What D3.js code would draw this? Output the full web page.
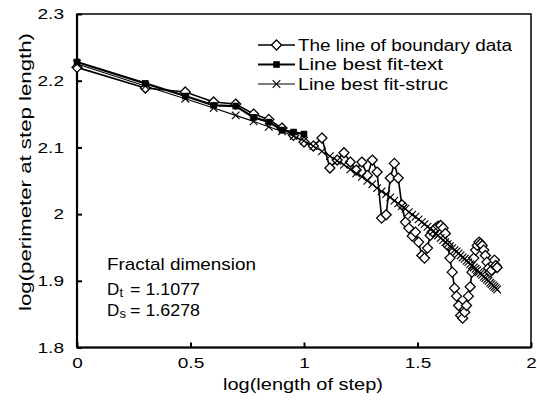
<!DOCTYPE html>
<html><head><meta charset="utf-8">
<script src="https://cdn.jsdelivr.net/npm/d3@7"></script>
<style>
body{margin:0;background:#fff}
svg{display:block}
text{font-family:"Liberation Sans",Arial,sans-serif;fill:#000}
</style>
</head><body><svg id="c" width="537" height="405"></svg>
<script>
// log10 of step length (steps 1..71)
const logStep = [0,0.301,0.477,0.602,0.699,0.778,0.845,0.903,0.954,1.000,
  1.041,1.079,1.114,1.146,1.176,1.204,1.230,1.255,1.279,1.301,
  1.322,1.342,1.362,1.380,1.398,1.415,1.431,1.447,1.462,1.477,
  1.491,1.505,1.519,1.531,1.544,1.556,1.568,1.580,1.591,1.602,
  1.613,1.623,1.633,1.643,1.653,1.663,1.672,1.681,1.690,1.699,
  1.708,1.716,1.724,1.732,1.740,1.748,1.756,1.763,1.771,1.778,
  1.785,1.792,1.799,1.806,1.813,1.820,1.826,1.833,1.839,1.845,1.851];
const boundaryData = [2.220,2.189,2.183,2.168,2.165,2.150,2.142,2.129,2.118,2.108,
  2.102,2.114,2.069,2.081,2.092,2.078,2.066,2.078,2.058,2.081,
  2.063,1.994,1.999,2.054,2.076,2.054,2.014,1.988,1.979,1.967,
  1.973,1.958,1.938,1.934,1.949,1.968,1.973,1.979,1.982,1.983,
  1.979,1.971,1.953,1.934,1.913,1.889,1.877,1.863,1.848,1.844,
  1.853,1.863,1.877,1.891,1.913,1.934,1.946,1.953,1.958,1.956,
  1.953,1.946,1.938,1.928,1.919,1.913,1.916,1.925,1.931,1.923,1.920];
const fitText = [2.228,2.196,2.177,2.163,2.162,2.145,2.138,2.126,2.123,2.120];
const fitStruc = [2.225,2.192,2.173,2.159,2.148,2.139,2.131,2.124,2.117,2.110,
  2.102,2.094,2.087,2.080,2.074,2.067,2.061,2.056,2.050,2.045,
  2.039,2.034,2.030,2.025,2.020,2.016,2.012,2.008,2.003,1.999,
  1.996,1.992,1.988,1.985,1.981,1.978,1.974,1.971,1.968,1.964,
  1.961,1.958,1.955,1.952,1.949,1.946,1.944,1.941,1.938,1.935,
  1.933,1.930,1.928,1.925,1.923,1.920,1.918,1.916,1.913,1.911,
  1.909,1.906,1.904,1.902,1.900,1.897,1.895,1.893,1.891,1.889,1.887];
const xTicks = [0,0.5,1,1.5,2];
const xTickLabels = ["0","0.5","1","1.5","2"];
const yTicks = [1.8,1.9,2.0,2.1,2.2,2.3];
const yTickLabels = ["1.8","1.9","2","2.1","2.2","2.3"];
const seriesNames = ["The line of boundary data","Line best fit-text","Line best fit-struc"];
const xTitle = "log(length of step)";
const yTitle = "log(perimeter at step length)";
const noteTitle = "Fractal dimension";
const noteRows = [["D","t","= 1.1077"],["D","s","= 1.6278"]];

const svg = d3.select("#c");
const L = 77, R = 531, T = 14, B = 347.5;
const x = d3.scaleLinear().domain([0,2]).range([L,R]);
const y = d3.scaleLinear().domain([1.8,2.3]).range([B,T]);

function widthOf(s){ let w=0; for(const c of s){ w += (c==="."?5.5:10.5); } return w; }

// axes
const yAxis = d3.axisLeft(y).tickValues(yTicks).tickSize(-5).tickPadding(13)
  .tickFormat((d,i)=>yTickLabels[i]);
const gy = svg.append("g").attr("transform",`translate(${L},0)`).call(yAxis);
gy.select(".domain").remove();
gy.selectAll(".tick line").attr("stroke","#000").attr("stroke-width",2);
gy.selectAll(".tick text").attr("font-size",15).attr("fill","#000")
  .attr("font-family","Liberation Sans, Arial, sans-serif")
  .attr("textLength",(d,i)=>widthOf(yTickLabels[i])).attr("lengthAdjust","spacingAndGlyphs");

const xAxis = d3.axisBottom(x).tickValues(xTicks).tickSize(-5).tickPadding(10)
  .tickFormat((d,i)=>xTickLabels[i]);
const gx = svg.append("g").attr("transform",`translate(0,${B})`).call(xAxis);
gx.select(".domain").remove();
gx.selectAll(".tick line").attr("stroke","#000").attr("stroke-width",2);
gx.selectAll(".tick text").attr("font-size",15).attr("fill","#000")
  .attr("font-family","Liberation Sans, Arial, sans-serif")
  .attr("textLength",(d,i)=>widthOf(xTickLabels[i])).attr("lengthAdjust","spacingAndGlyphs");

// frame
svg.append("rect").attr("x",L).attr("y",T).attr("width",R-L).attr("height",B-T)
  .attr("fill","none").attr("stroke","#000").attr("stroke-width",1.5);
svg.append("line").attr("x1",L).attr("x2",L).attr("y1",T).attr("y2",B).attr("stroke","#000").attr("stroke-width",2.2);
svg.append("line").attr("x1",L).attr("x2",R).attr("y1",B).attr("y2",B).attr("stroke","#000").attr("stroke-width",2.2);

// titles
svg.append("text").attr("x",(L+R)/2-1).attr("y",390).attr("text-anchor","middle")
  .attr("font-size",17).attr("textLength",160).attr("lengthAdjust","spacingAndGlyphs").text(xTitle);
svg.append("text").attr("transform","translate(31,172) rotate(-90)").attr("text-anchor","middle")
  .attr("font-size",17).attr("textLength",278).attr("lengthAdjust","spacingAndGlyphs").text(yTitle);

// marker shapes
const diamond = r => `M0,${-r}L${r},0L0,${r}L${-r},0Z`;
const cross = r => `M${-r},${-r}L${r},${r}M${-r},${r}L${r},${-r}`;

const ptsB = logStep.map((v,i)=>[v,boundaryData[i]]);
const ptsT = fitText.map((v,i)=>[logStep[i],v]);
const ptsS = logStep.map((v,i)=>[v,fitStruc[i]]);
const line = d3.line().x(d=>x(d[0])).y(d=>y(d[1]));

// boundary data
svg.append("path").attr("d",line(ptsB)).attr("fill","none").attr("stroke","#000").attr("stroke-width",1.6);
svg.append("g").selectAll("path").data(ptsB).join("path")
  .attr("transform",d=>`translate(${x(d[0])},${y(d[1])})`)
  .attr("d",diamond(5)).attr("fill","#fff").attr("stroke","#000").attr("stroke-width",1.3);

// struc fit
svg.append("path").attr("d",line(ptsS)).attr("fill","none").attr("stroke","#000").attr("stroke-width",1.1);
svg.append("g").selectAll("path").data(ptsS).join("path")
  .attr("transform",d=>`translate(${x(d[0])},${y(d[1])})`)
  .attr("d",cross(3.8)).attr("fill","none").attr("stroke","#000").attr("stroke-width",1.1);

// text fit
svg.append("path").attr("d",line(ptsT)).attr("fill","none").attr("stroke","#000").attr("stroke-width",2.2);
svg.append("g").selectAll("rect").data(ptsT).join("rect")
  .attr("x",d=>x(d[0])-3.3).attr("y",d=>y(d[1])-3.3).attr("width",6.6).attr("height",6.6).attr("fill","#000");

// legend
const legY = [45,64.5,84];
const legTextLen = [214,145,150];
const lg = svg.append("g");
seriesNames.forEach((name,i)=>{
  const yy = legY[i];
  lg.append("line").attr("x1",258).attr("x2",295).attr("y1",yy).attr("y2",yy)
    .attr("stroke","#000").attr("stroke-width",i===1?2.2:(i===0?1.6:1.1));
  if(i===0) lg.append("path").attr("transform",`translate(276.5,${yy})`).attr("d",diamond(5))
    .attr("fill","#fff").attr("stroke","#000").attr("stroke-width",1.3);
  if(i===1) lg.append("rect").attr("x",273.2).attr("y",yy-3.3).attr("width",6.6).attr("height",6.6).attr("fill","#000");
  if(i===2) lg.append("path").attr("transform",`translate(276.5,${yy})`).attr("d",cross(3.8))
    .attr("fill","none").attr("stroke","#000").attr("stroke-width",1.1);
  lg.append("text").attr("x",298).attr("y",yy+5.5).attr("font-size",16)
    .attr("textLength",legTextLen[i]).attr("lengthAdjust","spacingAndGlyphs").text(name);
});

// annotation
svg.append("text").attr("x",107).attr("y",270).attr("font-size",17)
  .attr("textLength",149).attr("lengthAdjust","spacingAndGlyphs").text(noteTitle);
noteRows.forEach((r,i)=>{
  const by = 295 + i*21;
  svg.append("text").attr("x",107).attr("y",by).attr("font-size",17).text(r[0]);
  svg.append("text").attr("x",119.5).attr("y",by+1.5).attr("font-size",13).text(r[1]);
  svg.append("text").attr("x",130).attr("y",by).attr("font-size",17)
    .attr("textLength",70).attr("lengthAdjust","spacingAndGlyphs").text(r[2]);
});
</script>
</body></html>
